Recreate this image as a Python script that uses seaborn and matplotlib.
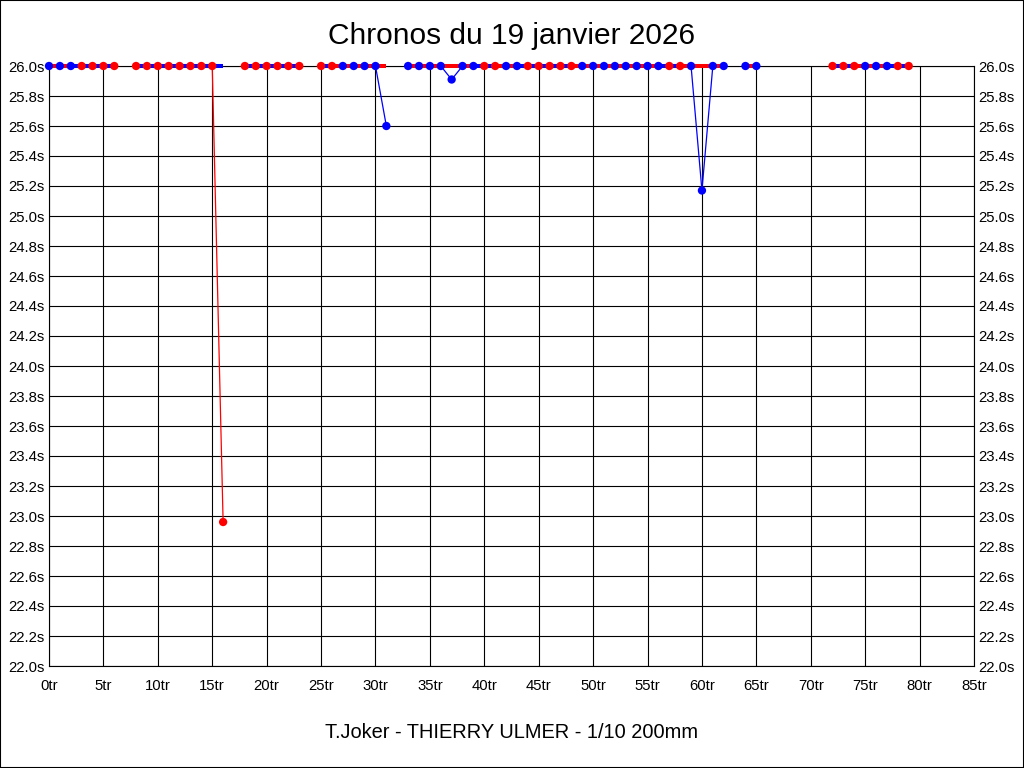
import seaborn as sns
import matplotlib.pyplot as plt
import matplotlib.patches as mpatches
import pandas as pd
from matplotlib.ticker import FuncFormatter, MultipleLocator

# laps and chrono values (26.0 = clipped at top of the chart)
laps = [0, 1, 2, 3, 4, 5, 6, 8, 9, 10, 11, 12, 13, 14, 15, 16,
        18, 19, 20, 21, 22, 23, 25, 26, 27, 28, 29, 30, 31,
        33, 34, 35, 36, 37, 38, 39, 40, 41, 42, 43, 44, 45, 46, 47, 48,
        49, 50, 51, 52, 53, 54, 55, 56, 57, 58, 59, 60, 61, 62,
        64, 65, 72, 73, 74, 75, 76, 77, 78, 79]
times = [26.0, 26.0, 26.0, 26.0, 26.0, 26.0, 26.0, 26.0, 26.0, 26.0, 26.0, 26.0, 26.0, 26.0, 26.0, 22.96,
         26.0, 26.0, 26.0, 26.0, 26.0, 26.0, 26.0, 26.0, 26.0, 26.0, 26.0, 26.0, 25.6,
         26.0, 26.0, 26.0, 26.0, 25.91, 26.0, 26.0, 26.0, 26.0, 26.0, 26.0, 26.0, 26.0, 26.0, 26.0, 26.0,
         26.0, 26.0, 26.0, 26.0, 26.0, 26.0, 26.0, 26.0, 26.0, 26.0, 26.0, 25.17, 26.0, 26.0,
         26.0, 26.0, 26.0, 26.0, 26.0, 26.0, 26.0, 26.0, 26.0, 26.0]
colors = ["b", "b", "b", "r", "r", "r", "r", "r", "r", "r", "r", "r", "r", "r", "r", "r",
          "r", "r", "r", "r", "r", "r", "r", "r", "b", "b", "b", "b", "b",
          "b", "b", "b", "b", "b", "b", "b", "r", "r", "b", "b", "r", "r", "r", "r", "r",
          "b", "b", "b", "b", "b", "b", "b", "b", "r", "r", "b", "b", "b", "b",
          "b", "b", "r", "r", "r", "b", "b", "b", "r", "r"]

df = pd.DataFrame({"lap": laps, "time": times, "col": colors})

sns.set_style("white")
plt.rcParams["font.family"] = ["Liberation Sans", "DejaVu Sans"]
plt.rcParams["text.color"] = "black"

fig = plt.figure(figsize=(10.24, 7.68), dpi=100)
ax = fig.add_axes([49 / 1024, 1 - 666 / 768, 925 / 1024, 600 / 768])

pal = {"b": "#0000ff", "r": "#ff0000"}
other = {"b": "#ff0000", "r": "#0000ff"}

# connect consecutive laps only
for i in range(1, len(df)):
    if df.lap[i] - df.lap[i - 1] != 1:
        continue
    ax.plot([df.lap[i - 1], df.lap[i]], [df.time[i - 1], df.time[i]],
            color=pal[df.col[i]], lw=0.9, zorder=3, clip_on=False)
for i in range(1, len(df)):
    if df.lap[i] - df.lap[i - 1] != 1:
        continue
    ax.plot([df.lap[i - 1], df.lap[i]], [26.0, 26.0],
            color=other[df.col[i]], lw=2.9, zorder=4, clip_on=False,
            solid_capstyle="butt")

sns.scatterplot(data=df, x="lap", y="time", hue="col", palette=pal, ax=ax,
                s=36, edgecolor="none", legend=False, zorder=5, clip_on=False)

ax.set_xlim(0, 85)
ax.set_ylim(22.0, 26.0)
ax.xaxis.set_major_locator(MultipleLocator(5))
ax.yaxis.set_major_locator(MultipleLocator(0.2))
ax.xaxis.set_major_formatter(FuncFormatter(lambda v, p: f"{v:.0f}tr"))
ax.yaxis.set_major_formatter(FuncFormatter(lambda v, p: f"{v:.1f}s"))
ax.grid(True, color="black", lw=0.8)
ax.set_axisbelow(True)
for sp in ax.spines.values():
    sp.set_color("black")
    sp.set_linewidth(0.8)
ax.tick_params(axis="both", length=0, labelsize=10.7, colors="black")
ax.tick_params(axis="y", labelright=True, pad=3)
ax.tick_params(axis="x", pad=9)
ax.set_xlabel("")
ax.set_ylabel("")

fig.text(0.5, 1 - 36 / 768, "Chronos du 19 janvier 2026", ha="center", va="center",
         fontsize=21.5, color="black")
fig.text(0.5, 1 - 733 / 768, "T.Joker - THIERRY ULMER - 1/10 200mm", ha="center", va="center",
         fontsize=14.4, color="black")
fig.patches.append(mpatches.Rectangle((0, 0), 1, 1, transform=fig.transFigure,
                                      fill=False, edgecolor="black", lw=1.5))

fig.savefig("out.png", dpi=100)
